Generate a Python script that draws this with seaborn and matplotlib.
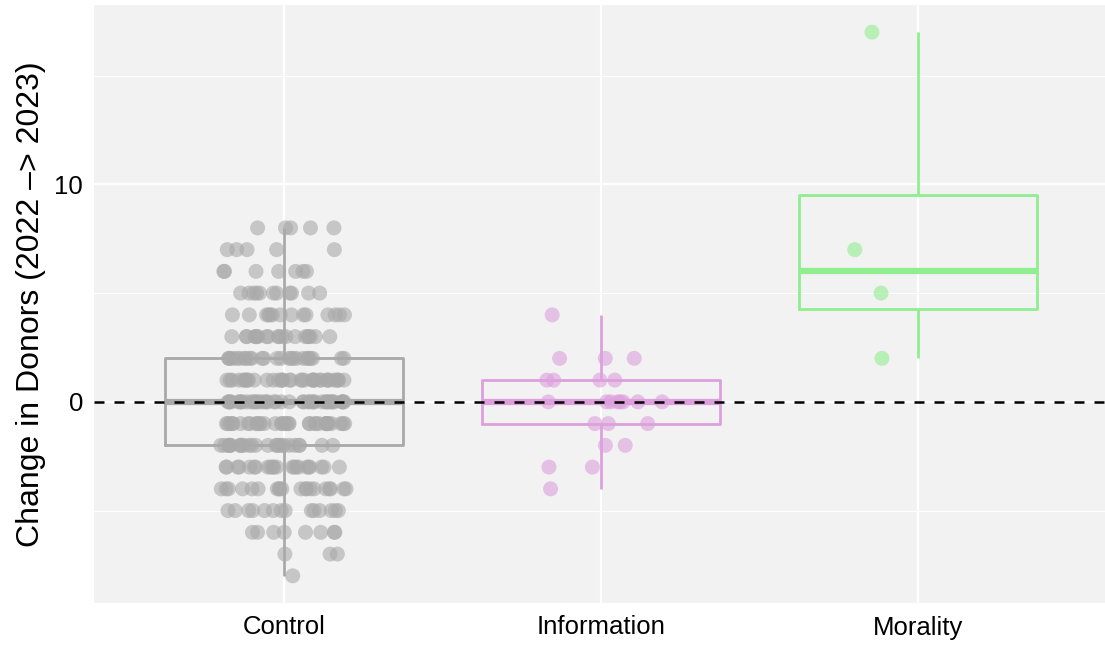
import numpy as np
import pandas as pd
import matplotlib
matplotlib.use("Agg")
import matplotlib.pyplot as plt
import seaborn as sns
from matplotlib.ticker import FixedLocator

# ---- data ----
groups = ["Control", "Information", "Morality"]
control_values = [8, 7, 6, 5, 4, 3, 2, 1, 0, -1, -2, -3, -4, -5, -6, -7, -8]
control_counts = [5, 5, 7, 11, 14, 20, 25, 35, 40, 35, 25, 22, 20, 14, 8, 3, 1]
info_values = [4, 2, 1, 0, -1, -2, -3, -4]
info_counts = [1, 3, 4, 8, 3, 2, 2, 1]
morality_values = [17, 7, 5, 2]
morality_counts = [1, 1, 1, 1]
colors = {"Control": "#A9A9A9", "Information": "#DDA0DD", "Morality": "#90EE90"}
ylabel = "Change in Donors (2022 \u2013> 2023)"

rows = []
for g, vals, cnts in [("Control", control_values, control_counts),
                      ("Information", info_values, info_counts),
                      ("Morality", morality_values, morality_counts)]:
    for v, c in zip(vals, cnts):
        rows += [(g, v)] * c
df = pd.DataFrame(rows, columns=["group", "change"])

sns.set_style("white")
plt.rcParams["font.family"] = ["Liberation Sans", "DejaVu Sans"]

W, H = 1105, 645
fig = plt.figure(figsize=(W / 100, H / 100), dpi=100)
ax = fig.add_axes([94 / W, (H - 603) / H, 1014 / W, 598 / H])
ax.set_facecolor("#F2F2F2")

sns.boxplot(data=df, x="group", y="change", hue="group", order=groups,
            hue_order=groups, palette=colors, fill=False, width=0.75,
            whis=1.5, showfliers=False, showcaps=False, linewidth=2,
            legend=False, medianprops={"linewidth": 4.5}, ax=ax, zorder=2)
for p in ax.patches:
    try:
        p.set_fill(True)
        p.set_facecolor((1, 1, 1, 0.3))
    except Exception:
        pass

np.random.seed(3)
sns.stripplot(data=df, x="group", y="change", hue="group", order=groups,
              hue_order=groups, palette=colors, jitter=0.2, size=10.8,
              alpha=0.6, linewidth=0, legend=False, ax=ax, zorder=3)

ax.axhline(0, color="black", linestyle=(0, (4, 4)), linewidth=1.8, zorder=5)

ax.set_xlim(-0.6, 2.6)
ax.set_ylim(-9.25, 18.25)
ax.yaxis.set_major_locator(FixedLocator([0, 10]))
ax.yaxis.set_minor_locator(FixedLocator([-5, 5, 15]))
ax.grid(True, which="major", color="white", linewidth=1.6)
ax.grid(True, which="minor", axis="y", color="white", linewidth=0.8)
ax.set_axisbelow(True)
for s in ax.spines.values():
    s.set_visible(False)
ax.tick_params(axis="both", which="both", length=0, labelsize=18.5,
               labelcolor="black")
ax.tick_params(axis="y", pad=8)
ax.tick_params(axis="x", pad=9)
ax.set_xlabel("")
ax.set_ylabel(ylabel, fontsize=23, color="black", labelpad=6)

fig.savefig("out.png", dpi=100)
